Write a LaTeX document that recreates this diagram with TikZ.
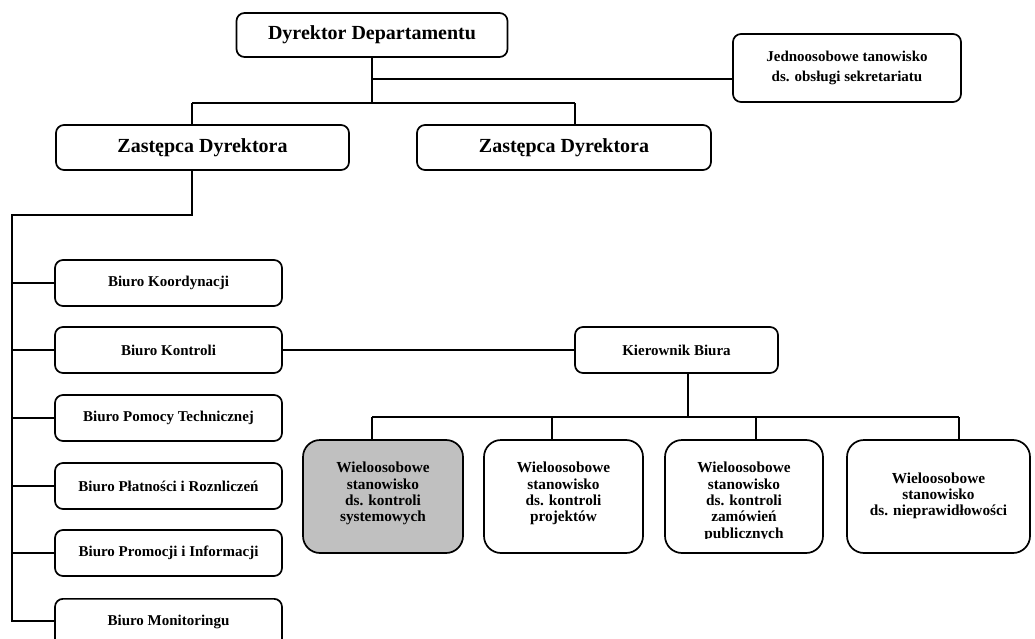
\documentclass[tikz,border=0pt]{standalone}
\usepackage{fontspec}
\setmainfont{Liberation Serif}
\usetikzlibrary{calc}
\definecolor{boxgray}{HTML}{C0C0C0}
\begin{document}
\begin{tikzpicture}[x=1pt,y=-1pt,
  conn/.style={line width=1.7pt},
  topbox/.style={draw,line width=1.7pt,rounded corners=8pt,inner sep=0pt,font=\bfseries\fontsize{20}{22}\selectfont},
  midbox/.style={draw,line width=1.7pt,rounded corners=8pt,inner sep=0pt,align=center,font=\bfseries\fontsize{15}{19.5}\selectfont},
  biuro/.style={midbox,minimum width=227pt,minimum height=46pt},
  wbox/.style={draw,line width=1.7pt,rounded corners=17pt,inner sep=0pt,minimum height=113pt},
  wtext/.style={inner sep=0pt,align=center,font=\bfseries\fontsize{15.3}{16.3}\selectfont}]
\useasboundingbox (0,0) rectangle (1035,639);
\clip (0,0) rectangle (1035,639);

% top level
\node[topbox,minimum width=271pt,minimum height=44pt] (dd) at (372,35) {Dyrektor Departamentu};
\node[midbox,minimum width=228pt,minimum height=68pt] (sec) at (847,68) {Jednoosobowe tanowisko\\ds. obsługi sekretariatu};
\node[topbox,minimum width=293pt,minimum height=45pt] (z1) at (202.5,147.5) {Zastępca Dyrektora};
\node[topbox,minimum width=294pt,minimum height=45pt] (z2) at (564,147.5) {Zastępca Dyrektora};

% left column
\node[biuro] (bk) at (168.5,283) {Biuro Koordynacji};
\node[biuro] (bkon) at (168.5,350) {Biuro Kontroli};
\node[biuro] (bp) at (168.5,418) {Biuro Pomocy Technicznej};
\node[biuro] (bpl) at (168.5,486) {Biuro Płatności i Roznliczeń};
\node[biuro] (bpr) at (168.5,553) {Biuro Promocji i Informacji};
\node[biuro,minimum height=80pt,anchor=north] (bm) at (168.5,598) {\raisebox{13pt}[0pt][0pt]{Biuro Monitoringu}};

% kierownik
\node[midbox,minimum width=203pt,minimum height=46pt] (kb) at (676.5,350) {Kierownik Biura};

% bottom boxes
\node[wbox,fill=boxgray,minimum width=160pt] (w1) at (383,496.5) {};
\node[wbox,minimum width=159pt] (w2) at (563.5,496.5) {};
\node[wbox,minimum width=158pt] (w3) at (744,496.5) {};
\node[wbox,minimum width=183pt] (w4) at (938.5,496.5) {};

\node[wtext,anchor=north] (t1) at (383,462) {Wieloosobowe\\stanowisko\\ds. kontroli\\systemowych};
\node[wtext,anchor=north] (t2) at (563.5,462) {Wieloosobowe\\stanowisko\\ds. kontroli\\projektów};
\begin{scope}
\clip (665,440) rectangle (823,538.5);
\node[wtext,anchor=north] (t3) at (744,462) {Wieloosobowe\\stanowisko\\ds. kontroli\\zamówień\\publicznych};
\end{scope}
\node[wtext] (t4) at (938.5,496) {Wieloosobowe\\stanowisko\\ds. nieprawidłowości};

% connectors top
\coordinate (ja) at (192,103);
\coordinate (jb) at (575,103);
\coordinate (js) at (372,79);
\draw[conn] (dd.south) -- (dd.south |- ja);
\draw[conn] (ja) -- (jb);
\draw[conn] (ja) -- (ja |- z1.north);
\draw[conn] (jb) -- (jb |- z2.north);
\draw[conn] (js) -- (js -| sec.west);

% connectors left column
\coordinate (jc) at (192,215);
\coordinate (jd) at (12,215);
\coordinate (jm) at ($(bm.north west)+(0,23)$);
\draw[conn] (jc |- z1.south) -- (jc) -- (jd) -- (jd |- jm) -- (jm);
\foreach \n in {bk,bkon,bp,bpl,bpr}{
  \draw[conn] (jd |- \n.west) -- (\n.west);
}
\draw[conn] (bkon.east) -- (kb.west);

% connectors bottom
\coordinate (jk) at (688,417);
\coordinate (je) at (372,417);
\coordinate (jf) at (552,417);
\coordinate (jg) at (756,417);
\coordinate (jh) at (959,417);
\draw[conn] (jk |- kb.south) -- (jk);
\draw[conn] (je) -- (jh);
\draw[conn] (je) -- (je |- w1.north);
\draw[conn] (jf) -- (jf |- w2.north);
\draw[conn] (jg) -- (jg |- w3.north);
\draw[conn] (jh) -- (jh |- w4.north);
\end{tikzpicture}
\end{document}
